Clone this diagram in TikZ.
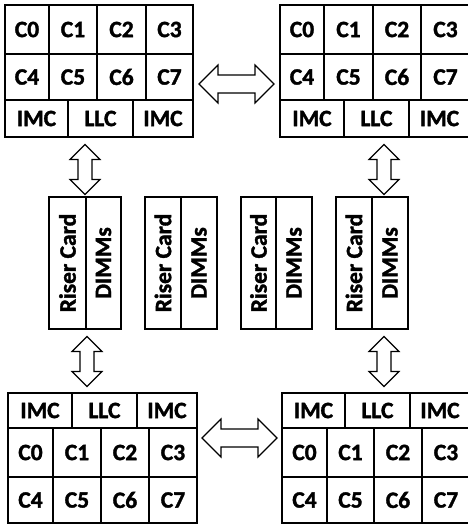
\documentclass[tikz,border=0pt]{standalone}
\usepackage{fontspec}
\setmainfont{Carlito}[BoldFont={Carlito Bold},BoldFeatures={FakeBold=1.5}]
\tikzset{
  cell/.style={draw, line width=1.2pt, inner sep=0pt, font=\bfseries\fontsize{23.5}{26}\selectfont, fill=white},
  blk/.style={draw, line width=1.1pt, fill=white, line join=miter},
}
\newcommand{\mycell}[6]{%
  \pgfmathsetmacro{\cw}{#4-#2}\pgfmathsetmacro{\ch}{#5-#3}%
  \pgfmathsetmacro{\cx}{(#2+#4)/2}\pgfmathsetmacro{\cy}{(#3+#5)/2}%
  \node[cell, minimum width=\cw pt, minimum height=\ch pt] (#1) at (\cx,\cy) {#6};}
\newcommand{\myrot}[6]{%
  \pgfmathsetmacro{\cw}{#4-#2}\pgfmathsetmacro{\ch}{#5-#3}%
  \pgfmathsetmacro{\cx}{(#2+#4)/2}\pgfmathsetmacro{\cy}{(#3+#5)/2}%
  \node[cell, rotate=90, minimum width=\ch pt, minimum height=\cw pt] (#1) at (\cx,\cy) {#6};}
\newcommand{\harr}[3]{%
  \coordinate (#1) at (#2,#3);
  \draw[blk, shift={(#1)}] (-37.5,0) -- (-18.5,-19) -- (-18.5,-9) -- (18.5,-9) -- (18.5,-19) -- (37.5,0)
     -- (18.5,19) -- (18.5,9) -- (-18.5,9) -- (-18.5,19) -- cycle;}
\newcommand{\varr}[3]{%
  \coordinate (#1) at (#2,#3);
  \draw[blk, shift={(#1)}] (0,-25) -- (15,-10) -- (7,-10) -- (7,10) -- (15,10) -- (0,25)
     -- (-15,10) -- (-7,10) -- (-7,-10) -- (-15,-10) -- cycle;}
\begin{document}
\begin{tikzpicture}[x=1pt,y=-1pt]
\useasboundingbox (0,0) rectangle (467,525);
% top-left CPU
\mycell{a0}{5}{5}{49}{54}{C0}
\mycell{a1}{49}{5}{97}{54}{C1}
\mycell{a2}{97}{5}{146}{54}{C2}
\mycell{a3}{146}{5}{193}{54}{C3}
\mycell{a4}{5}{54}{49}{100}{C4}
\mycell{a5}{49}{54}{97}{100}{C5}
\mycell{a6}{97}{54}{146}{100}{C6}
\mycell{a7}{146}{54}{193}{100}{C7}
\mycell{ai1}{5}{100}{68}{137}{IMC}
\mycell{al}{68}{100}{133}{137}{LLC}
\mycell{ai2}{133}{100}{193}{137}{IMC}
% top-right CPU
\mycell{b0}{280}{5}{324}{54}{C0}
\mycell{b1}{324}{5}{373}{54}{C1}
\mycell{b2}{373}{5}{421}{54}{C2}
\mycell{b3}{421}{5}{470}{54}{C3}
\mycell{b4}{280}{54}{324}{100}{C4}
\mycell{b5}{324}{54}{373}{100}{C5}
\mycell{b6}{373}{54}{421}{100}{C6}
\mycell{b7}{421}{54}{470}{100}{C7}
\mycell{bi1}{280}{100}{344}{137}{IMC}
\mycell{bl}{344}{100}{409}{137}{LLC}
\mycell{bi2}{409}{100}{470}{137}{IMC}
% bottom-left CPU
\mycell{ci1}{8}{393}{72}{428}{IMC}
\mycell{cl}{72}{393}{137}{428}{LLC}
\mycell{ci2}{137}{393}{197}{428}{IMC}
\mycell{c0}{8}{428}{53}{477}{C0}
\mycell{c1}{53}{428}{101}{477}{C1}
\mycell{c2}{101}{428}{149}{477}{C2}
\mycell{c3}{149}{428}{197}{477}{C3}
\mycell{c4}{8}{477}{53}{523}{C4}
\mycell{c5}{53}{477}{101}{523}{C5}
\mycell{c6}{101}{477}{149}{523}{C6}
\mycell{c7}{149}{477}{197}{523}{C7}
% bottom-right CPU
\mycell{di1}{282}{393}{345}{428}{IMC}
\mycell{dl}{345}{393}{410}{428}{LLC}
\mycell{di2}{410}{393}{470}{428}{IMC}
\mycell{d0}{282}{428}{327}{477}{C0}
\mycell{d1}{327}{428}{374}{477}{C1}
\mycell{d2}{374}{428}{422}{477}{C2}
\mycell{d3}{422}{428}{470}{477}{C3}
\mycell{d4}{282}{477}{327}{523}{C4}
\mycell{d5}{327}{477}{374}{523}{C5}
\mycell{d6}{374}{477}{422}{523}{C6}
\mycell{d7}{422}{477}{470}{523}{C7}
% riser cards
\myrot{r1}{49}{197}{86}{329}{Riser Card}
\myrot{m1}{86}{197}{121}{329}{DIMMs}
\myrot{r2}{145}{197}{181}{329}{Riser Card}
\myrot{m2}{181}{197}{217}{329}{DIMMs}
\myrot{r3}{241}{197}{276}{329}{Riser Card}
\myrot{m3}{276}{197}{312}{329}{DIMMs}
\myrot{r4}{336}{197}{372}{329}{Riser Card}
\myrot{m4}{372}{197}{408}{329}{DIMMs}
% block arrows
\harr{h1}{236.5}{84}
\harr{h2}{239.5}{438}
\varr{v1}{85}{169.5}
\varr{v2}{87}{361.5}
\varr{v3}{384}{169.5}
\varr{v4}{384}{361.5}
\end{tikzpicture}
\end{document}
